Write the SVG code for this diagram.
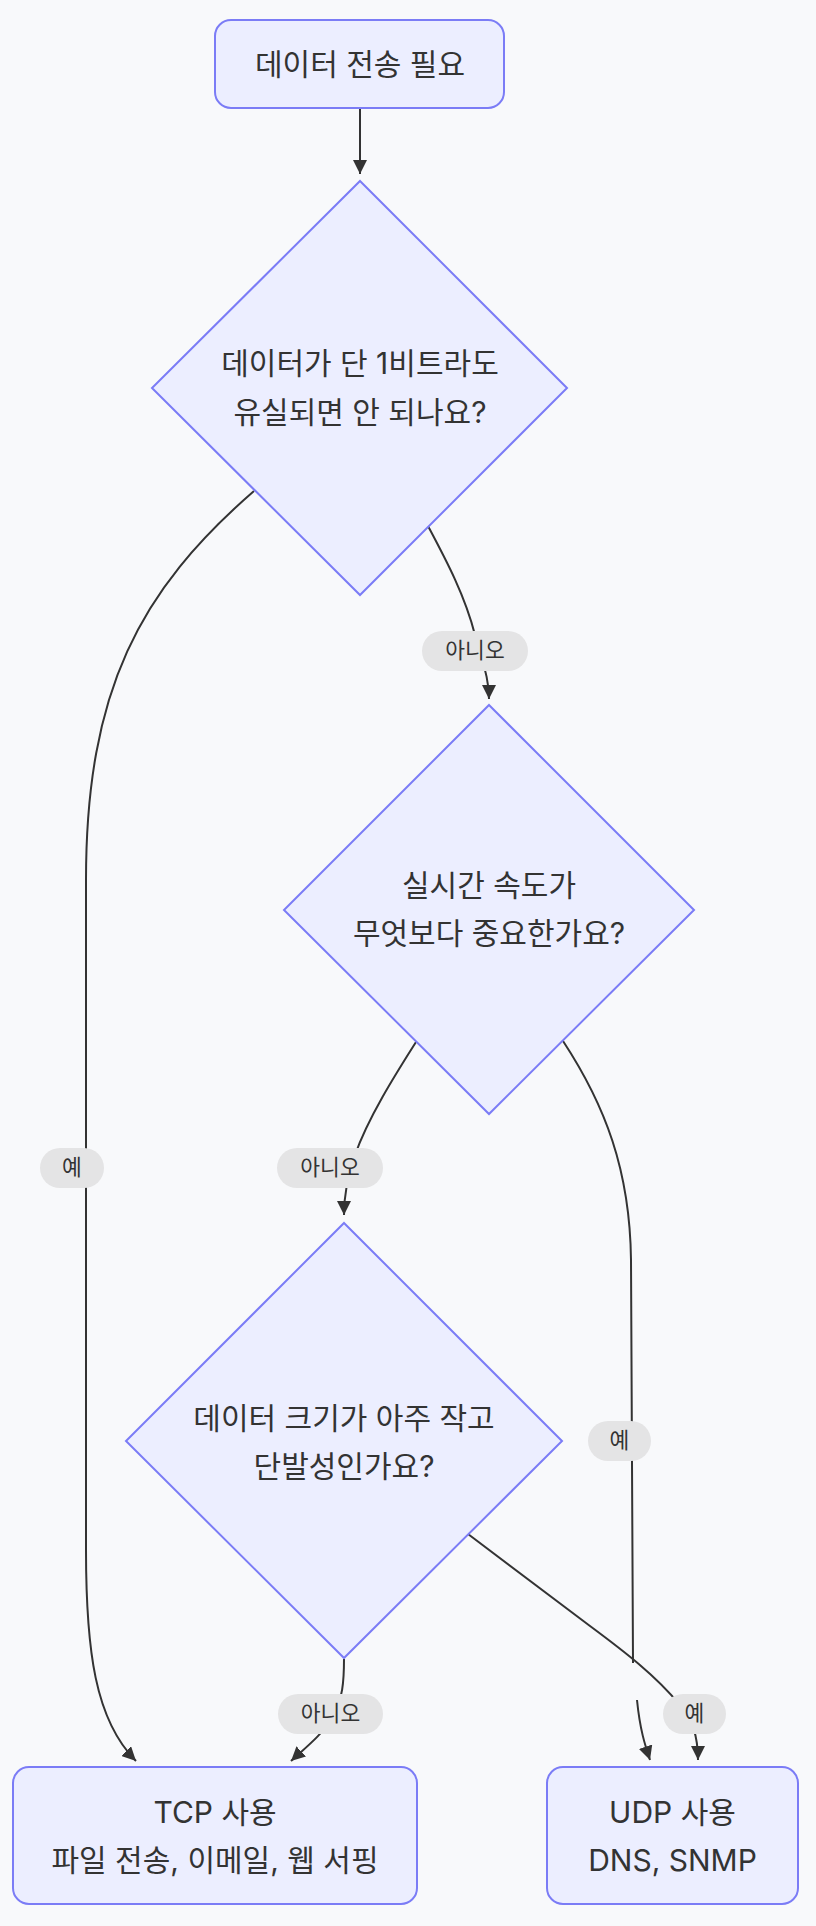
<svg xmlns="http://www.w3.org/2000/svg" width="816" height="1926" viewBox="0 0 816 1926">
<style>
.node{fill:#ECEEFF;stroke:#7B7CF6;stroke-width:2}
.nt{font-family:"Inter","Noto Sans CJK KR",sans-serif;font-size:30px;fill:#333;text-anchor:middle}
.edge{fill:none;stroke:#333;stroke-width:2}
.lbg{fill:#E4E4E5}
.lt{font-family:"Inter","Noto Sans CJK KR",sans-serif;font-size:21.5px;fill:#333;text-anchor:middle}
</style>
<defs>
<marker id="arrow" viewBox="0 0 10 10" refX="10" refY="5" markerWidth="14" markerHeight="14" markerUnits="userSpaceOnUse" orient="auto">
<path d="M0,0 L10,5 L0,10 z" fill="#333"/>
</marker>
</defs>
<rect x="0" y="0" width="816" height="1926" fill="#F8F9FB"/>
<g id="connectors">
<path class="edge" d="M360,108 L360,174" marker-end="url(#arrow)"/>
<path class="edge" d="M254,491 C140,590 86,690 86,880 L86,1550 C86,1650 95,1720 136,1761" marker-end="url(#arrow)"/>
<path class="edge" d="M428,526 C445,558 465,595 475,635 C481,660 489,675 489,699" marker-end="url(#arrow)"/>
<path class="edge" d="M416,1042 C395,1075 368,1118 355,1155 C348,1175 344,1195 344,1215" marker-end="url(#arrow)"/>
<path class="edge" d="M563,1041 C605,1105 630,1170 631,1260 L633,1663 M637,1700 C640,1730 645,1745 650,1760" marker-end="url(#arrow)"/>
<path class="edge" d="M468,1534 L590,1626 C625,1652 655,1675 680,1705 C694,1720 698,1740 698,1760" marker-end="url(#arrow)"/>
<path class="edge" d="M344,1659 C344,1680 343,1700 332,1718 C322,1735 305,1748 291,1761" marker-end="url(#arrow)"/>
</g>
<g id="edge-labels">
<g id="label-d1-no"><rect class="lbg" x="422" y="631" width="106" height="40" rx="20"/><text class="lt" x="475" y="658">아니오</text></g>
<g id="label-d1-yes"><rect class="lbg" x="40" y="1148" width="64" height="40" rx="20"/><text class="lt" x="72" y="1175">예</text></g>
<g id="label-d2-no"><rect class="lbg" x="277" y="1148" width="106" height="40" rx="20"/><text class="lt" x="330" y="1175">아니오</text></g>
<g id="label-d2-yes"><rect class="lbg" x="588" y="1421" width="63" height="40" rx="20"/><text class="lt" x="619.5" y="1448">예</text></g>
<g id="label-d3-no"><rect class="lbg" x="278" y="1694" width="105" height="40" rx="20"/><text class="lt" x="330.5" y="1721">아니오</text></g>
<g id="label-d3-yes"><rect class="lbg" x="663" y="1694" width="63" height="40" rx="20"/><text class="lt" x="694.5" y="1721">예</text></g>
</g>
<g id="start">
<rect class="node" x="215" y="20" width="289" height="88" rx="16"/>
<text class="nt" x="360" y="75">데이터 전송 필요</text>
</g>
<g id="q1">
<polygon class="node" points="360,181 567,388 360,595 152,388"/>
<text class="nt" x="360" y="374">데이터가 단 1비트라도</text>
<text class="nt" x="360" y="423">유실되면 안 되나요?</text>
</g>
<g id="q2">
<polygon class="node" points="489,705 694,910 489,1114 284,910"/>
<text class="nt" x="489" y="896">실시간 속도가</text>
<text class="nt" x="489" y="944">무엇보다 중요한가요?</text>
</g>
<g id="q3">
<polygon class="node" points="344,1223 562,1441 344,1658 126,1441"/>
<text class="nt" x="344" y="1429">데이터 크기가 아주 작고</text>
<text class="nt" x="344" y="1477">단발성인가요?</text>
</g>
<g id="tcp">
<rect class="node" x="13" y="1767" width="404" height="137" rx="16"/>
<text class="nt" x="215" y="1823">TCP 사용</text>
<text class="nt" x="215" y="1871">파일 전송, 이메일, 웹 서핑</text>
</g>
<g id="udp">
<rect class="node" x="547" y="1767" width="251" height="137" rx="16"/>
<text class="nt" x="672.5" y="1823">UDP 사용</text>
<text class="nt" x="672.5" y="1871">DNS, SNMP</text>
</g>
</svg>
